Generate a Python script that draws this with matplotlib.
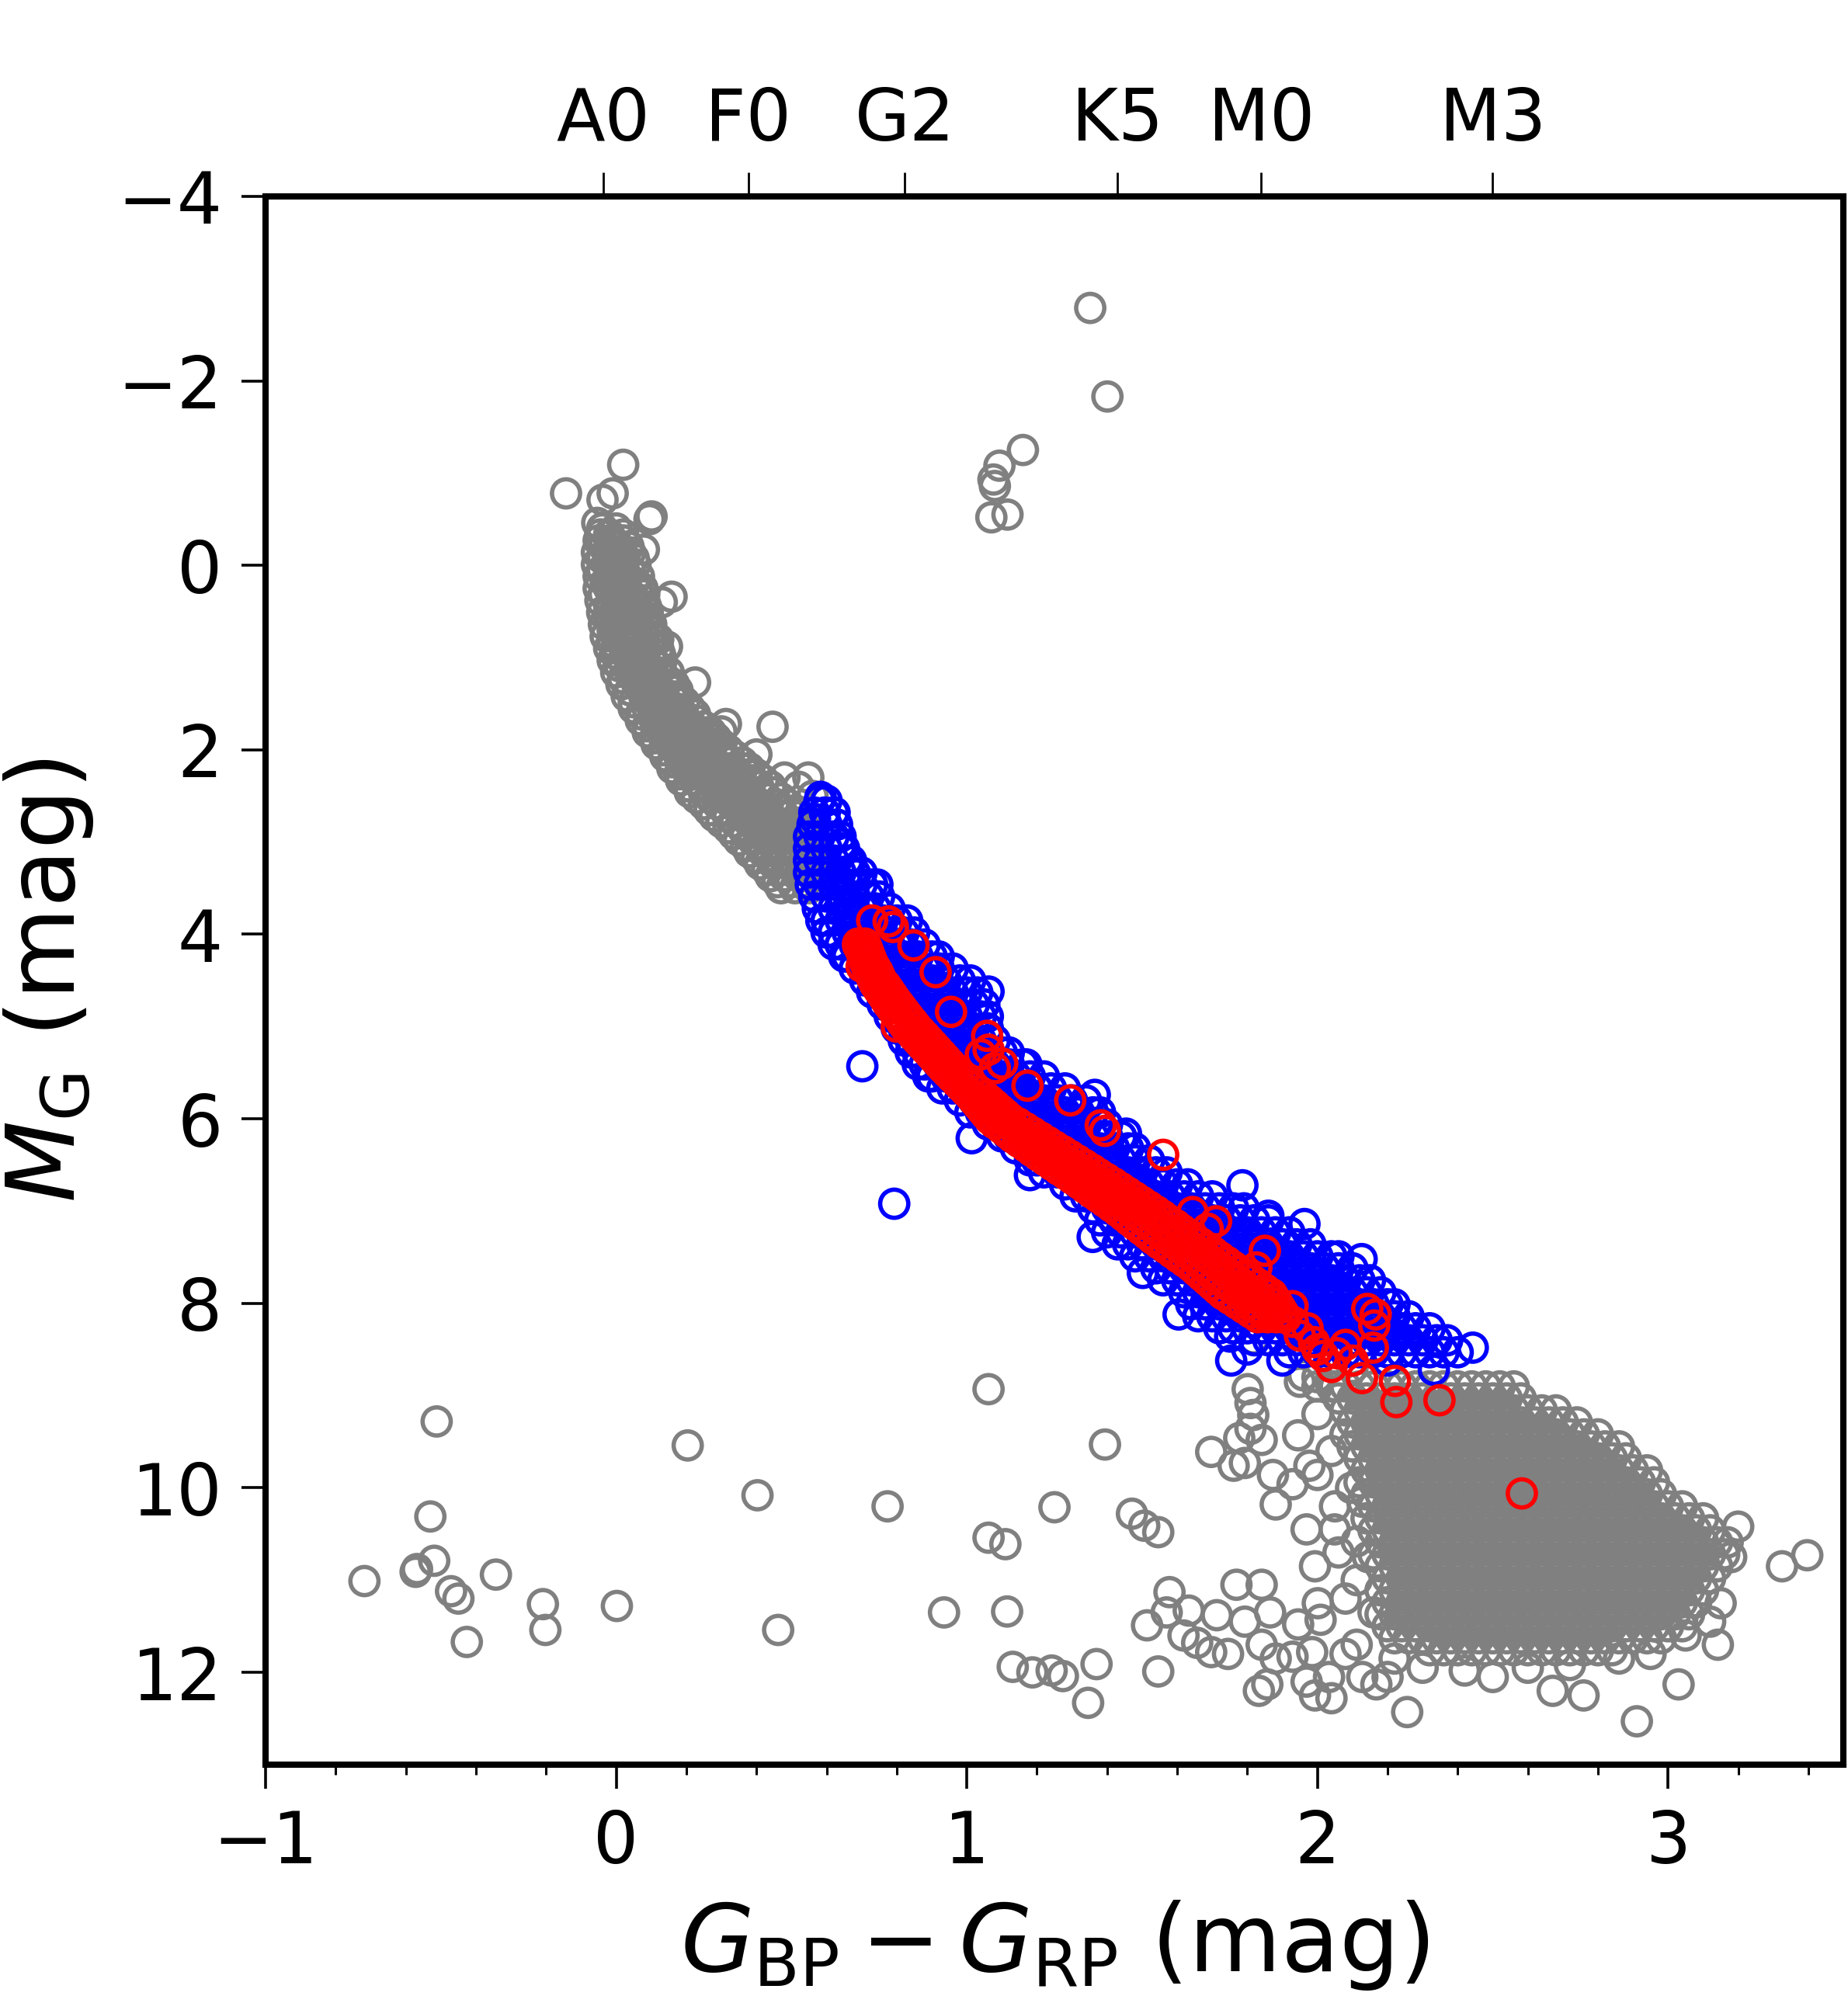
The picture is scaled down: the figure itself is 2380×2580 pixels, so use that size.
import numpy as np
import matplotlib
matplotlib.use("Agg")
import matplotlib.pyplot as plt

# spectral types on the top axis (Bp-Rp of the dwarf sequence)
spec_names = ["A0", "F0", "G2", "K5", "M0", "M3"]
spec_color = [-0.037, 0.377, 0.823, 1.430, 1.840, 2.500]

# grey: all stars, sparse points (Bp-Rp, M_G)
grey_points = [
    (1.352, -2.79), (1.401, -1.83), (1.160, -1.25), (1.093, -1.08), (1.076, -0.93),
    (1.080, -0.86), (1.116, -0.55), (1.070, -0.52),
    (-0.143, -0.78), (0.020, -1.09), (-0.039, -0.71), (-0.010, -0.78), (0.101, -0.53),
    (0.095, -0.50), (-0.054, -0.46), (0.079, -0.17), (0.158, 0.34), (0.130, 0.40),
    (0.145, 0.88), (0.120, 0.80), (0.225, 1.27), (0.313, 1.72), (0.300, 1.80),
    (0.446, 1.75), (0.400, 2.05), (0.480, 2.30), (0.548, 2.30), (0.520, 2.40), (0.560, 2.50),
    (-0.512, 9.28), (0.204, 9.54), (0.403, 10.08), (0.774, 10.20), (1.062, 8.93),
    (-0.530, 10.31), (-0.519, 10.79), (-0.572, 10.91), (-0.568, 10.88), (-0.718, 11.01),
    (-0.471, 11.12), (-0.450, 11.20), (-0.343, 10.94), (-0.209, 11.26), (-0.202, 11.54),
    (-0.426, 11.67), (0.002, 11.28), (0.462, 11.54), (0.935, 11.35), (1.062, 10.54),
    (1.394, 9.53), (1.250, 10.21), (1.110, 10.61), (1.471, 10.28), (1.506, 10.41),
    (1.546, 10.48), (1.115, 11.34), (1.131, 11.94), (1.187, 12.00), (1.242, 11.98),
    (1.274, 12.04), (1.370, 11.91), (1.346, 12.33), (1.546, 11.99), (1.514, 11.49),
    (1.578, 11.13), (1.570, 11.35), (1.633, 11.33), (1.618, 11.60), (1.657, 11.68),
    (1.713, 11.38), (1.697, 11.78), (1.745, 11.80), (1.793, 11.45), (1.769, 11.05),
    (1.841, 11.05), (1.865, 11.35), (1.841, 11.70), (1.881, 11.85), (1.833, 12.20),
    (1.857, 12.13), (1.929, 11.83), (1.945, 11.48), (1.985, 11.78), (2.001, 11.25),
    (1.993, 10.85), (2.009, 11.43), (1.969, 12.10), (1.993, 12.25), (2.040, 12.28),
    (2.033, 12.05), (2.080, 11.80), (2.112, 11.70), (2.128, 12.05), (2.168, 12.13),
    (2.200, 12.05), (2.256, 12.43),
    (1.697, 9.61), (1.761, 9.76), (1.793, 9.73), (1.777, 9.46), (1.809, 9.36),
    (1.817, 9.21), (1.809, 9.08), (1.801, 8.93), (1.841, 9.48), (1.873, 9.86),
    (1.945, 9.43), (1.929, 9.96), (1.977, 9.76), (2.000, 9.86), (1.881, 10.18),
    (1.969, 10.45), (2.049, 10.45), (2.112, 10.58), (2.096, 10.00), (2.128, 10.15),
    (2.144, 10.75), (2.112, 11.00), (2.160, 11.35), (2.050, 10.20), (2.060, 10.70),
    (2.080, 11.20), (2.040, 9.60), (2.000, 9.20),
    (2.671, 12.20), (2.759, 12.25), (2.911, 12.53), (3.030, 12.13), (3.142, 11.70),
    (3.325, 10.85), (3.397, 10.73), (3.200, 10.42), (3.180, 10.75),
    (1.818, 8.39), (1.960, 8.78), (2.000, 8.80), (2.050, 8.90), (1.950, 8.85), (2.100, 8.70),
    (2.220, 11.85), (2.300, 11.95), (2.420, 11.98), (2.500, 12.05), (2.600, 11.95),
    (2.720, 11.92), (2.860, 11.85), (2.950, 11.80), (3.050, 11.60), (3.120, 11.45),
    (3.150, 11.25),
]

# grey: upper main sequence, rows of (M_G, [Bp-Rp ...])
grey_upper_rows = [
    (-0.40, [-0.04, 0.00]),
    (-0.335, [-0.045, -0.02, 0.02]),
    (-0.27, [-0.05, -0.02, 0.02]),
    (-0.205, [-0.035, 0.00, 0.035]),
    (-0.14, [-0.055, -0.02, 0.00, 0.04]),
    (-0.075, [-0.04, 0.02, 0.05]),
    (-0.01, [-0.055, -0.02, 0.02, 0.055]),
    (0.055, [-0.04, 0.00, 0.04]),
    (0.12, [-0.05, -0.01, 0.03, 0.065]),
    (0.185, [-0.03, 0.01, 0.05]),
    (0.25, [-0.05, -0.02, 0.02, 0.06, 0.075]),
    (0.315, [-0.035, 0.00, 0.04, 0.08]),
    (0.38, [-0.045, 0.00, 0.04, 0.08]),
    (0.445, [-0.02, 0.02, 0.06, 0.085]),
    (0.51, [-0.04, -0.02, 0.02, 0.06, 0.09]),
    (0.575, [-0.02, 0.00, 0.04, 0.08]),
    (0.64, [-0.035, 0.00, 0.04, 0.08, 0.10]),
    (0.705, [-0.01, 0.02, 0.06, 0.10]),
    (0.77, [-0.03, 0.02, 0.06, 0.10, 0.11]),
    (0.835, [-0.01, 0.02, 0.06, 0.10]),
    (0.90, [-0.02, 0.00, 0.04, 0.08, 0.12]),
    (0.965, [0.00, 0.04, 0.08, 0.125]),
    (1.03, [-0.01, 0.02, 0.06, 0.10, 0.13]),
    (1.095, [0.01, 0.04, 0.08, 0.12]),
    (1.16, [0.00, 0.04, 0.08, 0.12, 0.15]),
    (1.225, [0.02, 0.06, 0.10, 0.14]),
    (1.29, [0.015, 0.06, 0.10, 0.14, 0.165]),
    (1.355, [0.04, 0.08, 0.12, 0.16, 0.175]),
    (1.42, [0.03, 0.08, 0.12, 0.16, 0.18]),
    (1.485, [0.05, 0.095, 0.135, 0.175, 0.195]),
    (1.55, [0.05, 0.09, 0.13, 0.17, 0.21]),
    (1.615, [0.07, 0.11, 0.15, 0.19, 0.225]),
    (1.68, [0.07, 0.11, 0.15, 0.19, 0.23]),
    (1.745, [0.09, 0.13, 0.17, 0.21, 0.25]),
    (1.81, [0.09, 0.13, 0.17, 0.21, 0.25, 0.27]),
    (1.875, [0.11, 0.15, 0.19, 0.23, 0.27, 0.285]),
    (1.94, [0.115, 0.155, 0.195, 0.235, 0.275, 0.30]),
    (2.005, [0.135, 0.175, 0.215, 0.255, 0.295, 0.32]),
    (2.07, [0.14, 0.18, 0.22, 0.26, 0.30, 0.34]),
    (2.135, [0.16, 0.20, 0.24, 0.28, 0.32, 0.36]),
    (2.20, [0.16, 0.20, 0.24, 0.28, 0.32, 0.36, 0.38]),
    (2.265, [0.18, 0.22, 0.26, 0.30, 0.34, 0.38, 0.40]),
    (2.33, [0.185, 0.225, 0.265, 0.305, 0.345, 0.385, 0.42]),
    (2.395, [0.205, 0.245, 0.285, 0.325, 0.365, 0.405, 0.44]),
    (2.46, [0.21, 0.25, 0.29, 0.33, 0.37, 0.41, 0.45]),
    (2.525, [0.23, 0.27, 0.31, 0.35, 0.39, 0.43, 0.47]),
    (2.59, [0.25, 0.29, 0.33, 0.37, 0.41, 0.45, 0.49]),
    (2.655, [0.265, 0.31, 0.35, 0.39, 0.43, 0.47, 0.51]),
    (2.72, [0.28, 0.32, 0.36, 0.40, 0.44, 0.48, 0.52]),
    (2.785, [0.30, 0.34, 0.38, 0.42, 0.46, 0.50, 0.53]),
    (2.85, [0.32, 0.36, 0.40, 0.44, 0.48, 0.52, 0.54]),
    (2.915, [0.335, 0.37, 0.41, 0.45, 0.49, 0.53, 0.55]),
    (2.98, [0.35, 0.39, 0.43, 0.47, 0.51, 0.55]),
    (3.045, [0.37, 0.41, 0.45, 0.49, 0.53, 0.565]),
    (3.11, [0.38, 0.42, 0.46, 0.50, 0.54, 0.57]),
    (3.175, [0.40, 0.44, 0.48, 0.52, 0.56]),
    (3.24, [0.41, 0.45, 0.49, 0.53, 0.57]),
    (3.305, [0.43, 0.47, 0.51, 0.55, 0.58]),
    (3.37, [0.44, 0.48, 0.52, 0.56]),
    (3.435, [0.46, 0.50, 0.54, 0.575]),
    (3.50, [0.47, 0.51, 0.55]),
]

# grey: M-dwarf clump at lower right
grey_blob_rows = [
    (8.90, [2.00, 2.04, 2.08, 2.12, 2.16, 2.20, 2.24, 2.28, 2.32, 2.36, 2.40, 2.44, 2.48, 2.52,
            2.56]),
    (9.03, [2.06, 2.10, 2.14, 2.18, 2.22, 2.26, 2.30, 2.34, 2.38, 2.42, 2.46, 2.50, 2.54, 2.58]),
    (9.16, [2.08, 2.12, 2.16, 2.20, 2.24, 2.28, 2.32, 2.36, 2.40, 2.44, 2.48, 2.52, 2.56, 2.60,
            2.64, 2.68]),
    (9.29, [2.10, 2.14, 2.18, 2.22, 2.26, 2.30, 2.34, 2.38, 2.42, 2.46, 2.50, 2.54, 2.58, 2.62,
            2.66, 2.70, 2.74]),
    (9.42, [2.08, 2.12, 2.16, 2.20, 2.24, 2.28, 2.32, 2.36, 2.40, 2.44, 2.48, 2.52, 2.56, 2.60,
            2.64, 2.68, 2.72, 2.76, 2.80]),
    (9.55, [2.10, 2.14, 2.18, 2.22, 2.26, 2.30, 2.34, 2.38, 2.42, 2.46, 2.50, 2.54, 2.58, 2.62,
            2.66, 2.70, 2.74, 2.78, 2.82, 2.86]),
    (9.68, [2.12, 2.16, 2.20, 2.24, 2.28, 2.32, 2.36, 2.40, 2.44, 2.48, 2.52, 2.56, 2.60, 2.64,
            2.68, 2.72, 2.76, 2.80, 2.84, 2.88]),
    (9.81, [2.14, 2.18, 2.22, 2.26, 2.30, 2.34, 2.38, 2.42, 2.46, 2.50, 2.54, 2.58, 2.62, 2.66,
            2.70, 2.74, 2.78, 2.82, 2.86, 2.90, 2.94]),
    (9.94, [2.12, 2.16, 2.20, 2.24, 2.28, 2.32, 2.36, 2.40, 2.44, 2.48, 2.52, 2.56, 2.60, 2.64,
            2.68, 2.72, 2.76, 2.80, 2.84, 2.88, 2.92, 2.96]),
    (10.07, [2.14, 2.18, 2.22, 2.26, 2.30, 2.34, 2.38, 2.42, 2.46, 2.50, 2.54, 2.58, 2.62, 2.66,
             2.70, 2.74, 2.78, 2.82, 2.86, 2.90, 2.94, 2.98]),
    (10.20, [2.16, 2.20, 2.24, 2.28, 2.32, 2.36, 2.40, 2.44, 2.48, 2.52, 2.56, 2.60, 2.64, 2.68,
             2.72, 2.76, 2.80, 2.84, 2.88, 2.92, 2.96, 3.00, 3.04]),
    (10.33, [2.14, 2.18, 2.22, 2.26, 2.30, 2.34, 2.38, 2.42, 2.46, 2.50, 2.54, 2.58, 2.62, 2.66,
             2.70, 2.74, 2.78, 2.82, 2.86, 2.90, 2.94, 2.98, 3.02, 3.06, 3.10]),
    (10.46, [2.16, 2.20, 2.24, 2.28, 2.32, 2.36, 2.40, 2.44, 2.48, 2.52, 2.56, 2.60, 2.64, 2.68,
             2.72, 2.76, 2.80, 2.84, 2.88, 2.92, 2.96, 3.00, 3.04, 3.08, 3.12]),
    (10.59, [2.18, 2.22, 2.26, 2.30, 2.34, 2.38, 2.42, 2.46, 2.50, 2.54, 2.58, 2.62, 2.66, 2.70,
             2.74, 2.78, 2.82, 2.86, 2.90, 2.94, 2.98, 3.02, 3.06, 3.10, 3.14, 3.17]),
    (10.72, [2.16, 2.20, 2.24, 2.28, 2.32, 2.36, 2.40, 2.44, 2.48, 2.52, 2.56, 2.60, 2.64, 2.68,
             2.72, 2.76, 2.80, 2.84, 2.88, 2.92, 2.96, 3.00, 3.04, 3.08, 3.12, 3.16]),
    (10.85, [2.18, 2.22, 2.26, 2.30, 2.34, 2.38, 2.42, 2.46, 2.50, 2.54, 2.58, 2.62, 2.66, 2.70,
             2.74, 2.78, 2.82, 2.86, 2.90, 2.94, 2.98, 3.02, 3.06, 3.10, 3.14]),
    (10.98, [2.20, 2.24, 2.28, 2.32, 2.36, 2.40, 2.44, 2.48, 2.52, 2.56, 2.60, 2.64, 2.68, 2.72,
             2.76, 2.80, 2.84, 2.88, 2.92, 2.96, 3.00, 3.04, 3.08, 3.12]),
    (11.11, [2.18, 2.22, 2.26, 2.30, 2.34, 2.38, 2.42, 2.46, 2.50, 2.54, 2.58, 2.62, 2.66, 2.70,
             2.74, 2.78, 2.82, 2.86, 2.90, 2.94, 2.98, 3.02, 3.06, 3.10]),
    (11.24, [2.20, 2.24, 2.28, 2.32, 2.36, 2.40, 2.44, 2.48, 2.52, 2.56, 2.60, 2.64, 2.68, 2.72,
             2.76, 2.80, 2.84, 2.88, 2.92, 2.96, 3.00, 3.04, 3.08]),
    (11.37, [2.18, 2.22, 2.26, 2.30, 2.34, 2.38, 2.42, 2.46, 2.50, 2.54, 2.58, 2.62, 2.66, 2.70,
             2.74, 2.78, 2.82, 2.86, 2.90, 2.94, 2.98, 3.02, 3.06]),
    (11.50, [2.20, 2.24, 2.28, 2.32, 2.36, 2.40, 2.44, 2.48, 2.52, 2.56, 2.60, 2.64, 2.68, 2.72,
             2.76, 2.80, 2.84, 2.88, 2.92, 2.96, 3.00, 3.04]),
    (11.63, [2.22, 2.26, 2.30, 2.34, 2.38, 2.42, 2.46, 2.50, 2.54, 2.58, 2.62, 2.66, 2.70, 2.74,
             2.78, 2.82, 2.86, 2.90, 2.94, 2.98]),
    (11.76, [2.32, 2.36, 2.40, 2.44, 2.48, 2.52, 2.56, 2.60, 2.64, 2.68, 2.72, 2.76, 2.80, 2.84]),
]

# blue: selected sample
blue_points = [
    (0.702, 5.43), (0.793, 6.92), (1.014, 6.21), (1.062, 4.62), (0.745, 3.46), (0.682, 3.35),
    (1.786, 6.72), (1.604, 8.12), (1.751, 8.36), (1.754, 8.62), (2.443, 8.48), (2.332, 8.72),
    (2.126, 7.52), (1.502, 7.67), (1.359, 7.28), (1.800, 8.50), (1.900, 8.62), (2.200, 8.62),
    (0.583, 2.51), (0.623, 2.68), (0.567, 2.75), (0.642, 3.02), (1.963, 7.14), (1.860, 7.05),
    (1.365, 5.74), (1.454, 6.16), (1.180, 6.61),
]

blue_rows = [
    (2.55, [0.58, 0.60]),
    (2.68, [0.565, 0.595, 0.62]),
    (2.81, [0.56, 0.60, 0.63]),
    (2.94, [0.55, 0.58, 0.62, 0.64]),
    (3.07, [0.55, 0.60, 0.64, 0.65]),
    (3.20, [0.55, 0.58, 0.62, 0.66, 0.67]),
    (3.33, [0.55, 0.60, 0.64, 0.68, 0.70]),
    (3.46, [0.555, 0.58, 0.62, 0.66, 0.70, 0.73]),
    (3.59, [0.565, 0.60, 0.64, 0.68, 0.72, 0.75]),
    (3.72, [0.575, 0.62, 0.66, 0.70, 0.74, 0.78]),
    (3.85, [0.585, 0.60, 0.64, 0.68, 0.72, 0.76, 0.80, 0.83]),
    (3.98, [0.60, 0.62, 0.66, 0.70, 0.74, 0.78, 0.82, 0.85]),
    (4.11, [0.62, 0.64, 0.68, 0.72, 0.76, 0.80, 0.84, 0.88]),
    (4.24, [0.65, 0.66, 0.70, 0.74, 0.78, 0.82, 0.86, 0.90, 0.92]),
    (4.37, [0.68, 0.72, 0.76, 0.80, 0.84, 0.88, 0.92, 0.96]),
    (4.50, [0.71, 0.74, 0.78, 0.82, 0.86, 0.90, 0.94, 0.98, 1.01]),
    (4.63, [0.73, 0.76, 0.80, 0.84, 0.88, 0.92, 0.96, 1.00, 1.03]),
    (4.76, [0.76, 0.78, 0.82, 0.86, 0.90, 0.94, 0.98, 1.02, 1.05]),
    (4.89, [0.78, 0.80, 0.84, 0.88, 0.92, 0.96, 1.00, 1.04, 1.06]),
    (5.02, [0.80, 0.82, 0.86, 0.90, 0.94, 0.98, 1.02, 1.06]),
    (5.15, [0.82, 0.84, 0.88, 0.92, 0.96, 1.00, 1.04, 1.08]),
    (5.28, [0.84, 0.86, 0.90, 0.94, 0.98, 1.02, 1.06, 1.10, 1.12]),
    (5.41, [0.86, 0.88, 0.92, 0.96, 1.00, 1.04, 1.08, 1.12, 1.16, 1.17]),
    (5.54, [0.89, 0.90, 0.94, 0.98, 1.02, 1.06, 1.10, 1.14, 1.18, 1.22]),
    (5.67, [0.93, 0.96, 1.00, 1.04, 1.08, 1.12, 1.16, 1.20, 1.24, 1.28]),
    (5.80, [0.98, 1.02, 1.06, 1.10, 1.14, 1.18, 1.22, 1.26, 1.30, 1.34]),
    (5.93, [1.01, 1.04, 1.08, 1.12, 1.16, 1.20, 1.24, 1.28, 1.32, 1.36, 1.38]),
    (6.06, [1.06, 1.10, 1.14, 1.18, 1.22, 1.26, 1.30, 1.34, 1.38, 1.40]),
    (6.19, [1.10, 1.12, 1.16, 1.20, 1.24, 1.28, 1.32, 1.36, 1.40, 1.44]),
    (6.32, [1.14, 1.18, 1.22, 1.26, 1.30, 1.34, 1.38, 1.42, 1.46, 1.48]),
    (6.45, [1.18, 1.20, 1.24, 1.28, 1.32, 1.36, 1.40, 1.44, 1.48, 1.52]),
    (6.58, [1.22, 1.26, 1.30, 1.34, 1.38, 1.42, 1.46, 1.50, 1.54, 1.57]),
    (6.71, [1.28, 1.32, 1.36, 1.40, 1.44, 1.48, 1.52, 1.56, 1.60, 1.63]),
    (6.84, [1.31, 1.34, 1.38, 1.42, 1.46, 1.50, 1.54, 1.58, 1.62, 1.66, 1.70]),
    (6.97, [1.36, 1.40, 1.44, 1.48, 1.52, 1.56, 1.60, 1.64, 1.68, 1.72, 1.76, 1.79]),
    (7.10, [1.38, 1.42, 1.46, 1.50, 1.54, 1.58, 1.62, 1.66, 1.70, 1.74, 1.78, 1.82, 1.86]),
    (7.23, [1.40, 1.44, 1.48, 1.52, 1.56, 1.60, 1.64, 1.68, 1.72, 1.76, 1.80, 1.84, 1.88,
            1.92]),
    (7.36, [1.43, 1.46, 1.50, 1.54, 1.58, 1.62, 1.66, 1.70, 1.74, 1.78, 1.82, 1.86, 1.90, 1.94,
            1.98]),
    (7.49, [1.48, 1.52, 1.56, 1.60, 1.64, 1.68, 1.72, 1.76, 1.80, 1.84, 1.88, 1.92, 1.96, 2.00,
            2.04, 2.06]),
    (7.62, [1.54, 1.58, 1.62, 1.66, 1.70, 1.74, 1.78, 1.82, 1.86, 1.90, 1.94, 1.98, 2.02, 2.06,
            2.10]),
    (7.75, [1.56, 1.60, 1.64, 1.68, 1.72, 1.76, 1.80, 1.84, 1.88, 1.92, 1.96, 2.00, 2.04, 2.08,
            2.12, 2.15]),
    (7.88, [1.62, 1.66, 1.70, 1.74, 1.78, 1.82, 1.86, 1.90, 1.94, 1.98, 2.02, 2.06, 2.10, 2.14,
            2.18]),
    (8.01, [1.64, 1.68, 1.72, 1.76, 1.80, 1.84, 1.88, 1.92, 1.96, 2.00, 2.04, 2.08, 2.12, 2.16,
            2.20, 2.22]),
    (8.14, [1.66, 1.70, 1.74, 1.78, 1.82, 1.86, 1.90, 1.94, 1.98, 2.02, 2.06, 2.10, 2.14, 2.18,
            2.22, 2.26]),
    (8.27, [1.72, 1.76, 1.80, 1.84, 1.88, 1.92, 1.96, 2.00, 2.04, 2.08, 2.12, 2.16, 2.20, 2.24,
            2.28, 2.32]),
    (8.40, [1.82, 1.86, 1.90, 1.94, 1.98, 2.02, 2.06, 2.10, 2.14, 2.18, 2.22, 2.26, 2.30, 2.34,
            2.37]),
    (8.53, [1.92, 1.96, 2.00, 2.04, 2.08, 2.12, 2.16, 2.20, 2.24, 2.28, 2.32, 2.36, 2.40]),
]

# red: best candidates
red_points = [
    (0.730, 3.85), (0.777, 3.86), (0.789, 3.92), (0.848, 4.12), (0.911, 4.41), (0.690, 4.12),
    (0.706, 4.16), (0.955, 4.84), (1.058, 5.10), (1.062, 5.25), (1.101, 5.40), (1.173, 5.64),
    (1.295, 5.80), (1.382, 6.07), (1.394, 6.13), (1.560, 6.39), (1.644, 7.01), (1.711, 7.11),
    (1.687, 7.19), (1.850, 7.43), (1.826, 7.61), (1.929, 8.03), (1.972, 8.27), (2.142, 8.06),
    (2.166, 8.12), (2.162, 8.24), (2.158, 8.48), (2.016, 8.57), (2.055, 8.54), (2.040, 8.69),
    (2.127, 8.81), (2.221, 8.84), (2.225, 9.07), (2.348, 9.05), (2.583, 10.06),
    (1.950, 8.35), (1.990, 8.42), (2.080, 8.45), (2.100, 8.62), (1.930, 8.20), (2.000, 8.50),
    (1.900, 8.15), (1.040, 5.30), (1.080, 5.45), (0.700, 4.35), (0.750, 4.60), (0.800, 5.00),
]

red_rows = [
    (4.10, [0.69, 0.71]), (4.15, [0.695, 0.715]), (4.20, [0.70, 0.72]),
    (4.25, [0.705, 0.725]), (4.30, [0.71, 0.73]), (4.35, [0.715, 0.737]),
    (4.40, [0.72, 0.745]), (4.45, [0.727, 0.751]), (4.50, [0.733, 0.757]),
    (4.55, [0.74, 0.768]), (4.60, [0.749, 0.777]), (4.65, [0.758, 0.786]),
    (4.70, [0.767, 0.795]), (4.75, [0.775, 0.805]), (4.80, [0.785, 0.815]),
    (4.85, [0.795, 0.825]), (4.90, [0.805, 0.835]), (4.95, [0.814, 0.846]),
    (5.00, [0.824, 0.856]), (5.05, [0.836, 0.868]), (5.10, [0.848, 0.88]),
    (5.15, [0.86, 0.892]), (5.20, [0.872, 0.904]), (5.25, [0.884, 0.916]),
    (5.30, [0.896, 0.928]), (5.35, [0.908, 0.94]), (5.40, [0.92, 0.952]),
    (5.45, [0.932, 0.964]), (5.50, [0.945, 0.975]), (5.55, [0.958, 0.99]),
    (5.60, [0.971, 1.005]), (5.65, [0.984, 1.02]), (5.70, [0.997, 1.035]),
    (5.75, [1.01, 1.05]), (5.80, [1.021, 1.043, 1.065]), (5.85, [1.032, 1.056, 1.08]),
    (5.90, [1.043, 1.069, 1.095]), (5.95, [1.054, 1.082, 1.11]),
    (6.00, [1.065, 1.095, 1.125]), (6.05, [1.08, 1.114, 1.147]),
    (6.10, [1.098, 1.133, 1.168]), (6.15, [1.114, 1.151, 1.189]),
    (6.20, [1.13, 1.157, 1.183, 1.21]), (6.25, [1.149, 1.176, 1.204, 1.231]),
    (6.30, [1.168, 1.196, 1.224, 1.252]), (6.35, [1.186, 1.215, 1.245, 1.274]),
    (6.40, [1.205, 1.235, 1.265, 1.295]), (6.45, [1.224, 1.255, 1.285, 1.316]),
    (6.50, [1.243, 1.274, 1.306, 1.337]), (6.55, [1.262, 1.294, 1.326, 1.358]),
    (6.60, [1.282, 1.314, 1.346, 1.378]), (6.65, [1.301, 1.334, 1.366, 1.399]),
    (6.70, [1.32, 1.353, 1.387, 1.42]), (6.75, [1.338, 1.372, 1.406, 1.44]),
    (6.80, [1.356, 1.391, 1.425, 1.46]), (6.85, [1.375, 1.41, 1.445, 1.48]),
    (6.90, [1.394, 1.429, 1.465, 1.50]), (6.95, [1.412, 1.448, 1.484, 1.52]),
    (7.00, [1.43, 1.467, 1.503, 1.54]), (7.05, [1.447, 1.484, 1.522, 1.559]),
    (7.10, [1.463, 1.501, 1.539, 1.577]), (7.15, [1.48, 1.519, 1.557, 1.596]),
    (7.20, [1.497, 1.536, 1.574, 1.613]), (7.25, [1.514, 1.553, 1.593, 1.632]),
    (7.30, [1.53, 1.57, 1.61, 1.65]), (7.35, [1.548, 1.588, 1.628, 1.668]),
    (7.40, [1.567, 1.607, 1.647, 1.687]), (7.45, [1.585, 1.625, 1.665, 1.705]),
    (7.50, [1.603, 1.643, 1.683, 1.723]), (7.55, [1.622, 1.662, 1.702, 1.742]),
    (7.60, [1.64, 1.68, 1.72, 1.76]), (7.65, [1.655, 1.696, 1.738, 1.779]),
    (7.70, [1.67, 1.712, 1.754, 1.796]), (7.75, [1.685, 1.728, 1.772, 1.815]),
    (7.80, [1.70, 1.745, 1.789, 1.834]), (7.85, [1.715, 1.76, 1.806, 1.851]),
    (7.90, [1.73, 1.777, 1.823, 1.87]), (7.95, [1.75, 1.793, 1.835, 1.878]),
    (8.00, [1.77, 1.809, 1.847, 1.886]), (8.05, [1.79, 1.825, 1.859, 1.894]),
    (8.10, [1.81, 1.841, 1.871, 1.902]), (8.15, [1.83, 1.857, 1.883, 1.91]),
]


def collect(points, *row_sets):
    xs = [p[0] for p in points]
    ys = [p[1] for p in points]
    for rows in row_sets:
        for mg, cols in rows:
            xs += cols
            ys += [mg] * len(cols)
    return np.array(xs), np.array(ys)


gx, gy = collect(grey_points, grey_upper_rows, grey_blob_rows)
bx, by = collect(blue_points, blue_rows)
rx, ry = collect(red_points, red_rows)

plt.rcParams['font.family'] = ['DejaVu Sans']
plt.rcParams['mathtext.fontset'] = 'dejavusans'

fig = plt.figure(figsize=(11.9, 12.9), dpi=200)
ax = fig.add_axes([0.1437, 0.119, 0.8538, 0.783])

msize = 170
mlw = 2.0
ax.scatter(gx, gy, s=msize, facecolors='none', edgecolors='gray', linewidths=mlw, zorder=2)
ax.scatter(bx, by, s=msize, facecolors='none', edgecolors='blue', linewidths=mlw, zorder=3)
ax.scatter(rx, ry, s=msize, facecolors='none', edgecolors='red', linewidths=mlw, zorder=4)

ax.set_xlim(-1, 3.5)
ax.set_ylim(13, -4)
ax.set_xticks([-1, 0, 1, 2, 3])
ax.set_xticks(np.arange(-1, 3.5, 0.2), minor=True)
ax.set_yticks([-4, -2, 0, 2, 4, 6, 8, 10, 12])
ax.set_yticks(np.arange(-4, 13.01, 0.5), minor=True)
ax.tick_params(which='major', direction='out', length=11, width=1.3, labelsize=33, pad=9,
               top=False, right=False)
ax.tick_params(which='minor', direction='out', length=4.5, width=1.1, top=False, right=False)
for sp in ax.spines.values():
    sp.set_linewidth(2.9)

ax.set_xlabel(r'$G_{\rm BP}-G_{\rm RP}$ (mag)', fontsize=44)
ax.set_ylabel(r'$M_{\rm G}$ (mag)', fontsize=44)
ax.xaxis.set_label_coords(0.5, -0.085)
ax.yaxis.set_label_coords(-0.108, 0.5)

top = ax.twiny()
top.set_xlim(ax.get_xlim())
top.set_xticks(spec_color)
top.set_xticklabels(spec_names)
top.tick_params(which='major', direction='out', length=11, width=1.0, labelsize=33, pad=8)
top.minorticks_off()
for sp in top.spines.values():
    sp.set_visible(False)

fig.savefig('out.png', dpi=200)
